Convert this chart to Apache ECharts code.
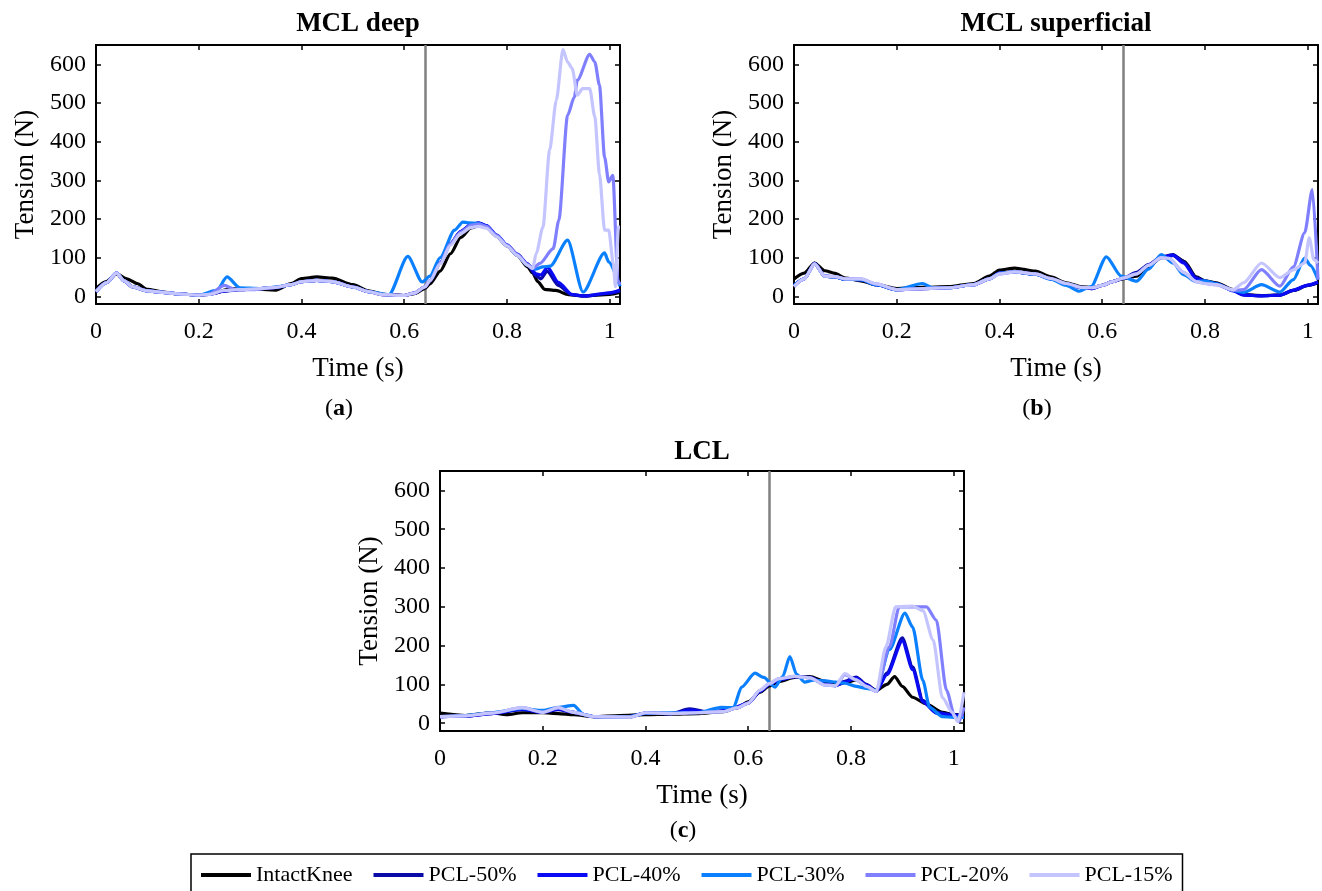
<!DOCTYPE html>
<html>
<head>
<meta charset="utf-8">
<script src="https://cdn.jsdelivr.net/npm/echarts@6/dist/echarts.min.js"></script>
<style>
html,body{margin:0;padding:0;background:#fff;}
#chart{width:1322px;height:891px;}
</style>
</head>
<body>
<div id="chart"></div>
<script>
// ---------- data ----------
const seriesNames = ['IntactKnee', 'PCL-50%', 'PCL-40%', 'PCL-30%', 'PCL-20%', 'PCL-15%'];
const seriesColors = ['#000000', '#0A0AA8', '#0A0AF5', '#0A80FF', '#8080FF', '#C4C4FF'];
const panelTitles = ['MCL deep', 'MCL superficial', 'LCL'];
const panelTags = ['a', 'b', 'c'];
const xTicks = [0, 0.2, 0.4, 0.6, 0.8, 1];
const yTicks = [0, 100, 200, 300, 400, 500, 600];
const markerTime = 0.64;

// MCL deep
const deepIntact = [[0,20],[0.02,38],[0.04,58],[0.06,45],[0.08,33],[0.1,18],[0.13,11],[0.16,6],[0.2,3],[0.23,8],[0.26,19],[0.3,19],[0.35,16],[0.38,33],[0.4,46],[0.43,50],[0.46,47],[0.5,30],[0.53,14],[0.56,5],[0.6,2],[0.62,7],[0.64,20],[0.65,32],[0.67,65],[0.69,110],[0.71,152],[0.73,177],[0.745,183],[0.76,178],[0.78,155],[0.8,130],[0.82,106],[0.84,76],[0.85,60],[0.86,38],[0.873,18],[0.895,15],[0.92,4],[0.95,1],[1.0,5],[1.02,10]];
const deepP50 = [[0,12],[0.02,35],[0.04,60],[0.055,40],[0.07,25],[0.1,14],[0.13,10],[0.16,6],[0.2,3],[0.22,5],[0.25,13],[0.28,17],[0.32,20],[0.35,22],[0.38,30],[0.4,38],[0.43,41],[0.46,38],[0.5,24],[0.53,12],[0.56,4],[0.6,2],[0.62,8],[0.64,24],[0.65,40],[0.67,86],[0.69,136],[0.71,167],[0.73,185],[0.745,189],[0.76,182],[0.78,157],[0.8,132],[0.82,108],[0.84,82],[0.857,52],[0.866,45],[0.878,65],[0.9,28],[0.925,5],[0.95,0],[1.0,8],[1.02,14]];
const deepP40 = [[0,12],[0.02,35],[0.04,60],[0.055,40],[0.07,25],[0.1,14],[0.13,10],[0.16,6],[0.2,3],[0.22,5],[0.25,14],[0.28,17],[0.32,20],[0.35,23],[0.38,30],[0.4,38],[0.43,41],[0.46,38],[0.5,24],[0.53,12],[0.56,4],[0.6,2],[0.62,8],[0.64,24],[0.65,40],[0.67,86],[0.69,136],[0.71,168],[0.73,186],[0.745,190],[0.76,183],[0.78,158],[0.8,133],[0.82,109],[0.84,84],[0.857,58],[0.866,55],[0.879,75],[0.9,36],[0.927,4],[0.95,1],[1.0,9],[1.02,16]];
const deepP30 = [[0,12],[0.02,35],[0.04,60],[0.055,40],[0.07,25],[0.1,14],[0.13,10],[0.16,6],[0.2,3],[0.235,15],[0.255,50],[0.28,22],[0.32,20],[0.35,24],[0.38,30],[0.4,38],[0.43,41],[0.46,38],[0.5,24],[0.53,12],[0.57,4],[0.607,103],[0.635,37],[0.65,52],[0.67,100],[0.698,171],[0.714,192],[0.724,190],[0.745,188],[0.76,180],[0.78,156],[0.8,131],[0.82,106],[0.84,80],[0.855,70],[0.87,76],[0.884,78],[0.918,145],[0.948,11],[0.99,112],[0.998,89],[1.02,26]];
const deepP20 = [[0,12],[0.02,35],[0.04,60],[0.055,40],[0.07,25],[0.1,14],[0.13,10],[0.16,6],[0.2,3],[0.22,5],[0.25,28],[0.27,18],[0.3,17],[0.35,23],[0.38,30],[0.4,38],[0.43,41],[0.46,38],[0.5,24],[0.53,12],[0.56,4],[0.6,2],[0.62,8],[0.64,24],[0.65,40],[0.67,86],[0.69,136],[0.71,166],[0.73,184],[0.745,187],[0.76,181],[0.78,157],[0.8,132],[0.82,108],[0.84,82],[0.85,72],[0.864,85],[0.89,123],[0.901,197],[0.918,468],[0.931,515],[0.937,559],[0.961,626],[0.971,606],[0.98,546],[0.99,360],[0.998,296],[1.006,313],[1.016,40],[1.02,30]];
const deepP15 = [[0,12],[0.02,35],[0.04,60],[0.055,40],[0.07,25],[0.1,14],[0.13,10],[0.16,6],[0.2,3],[0.22,5],[0.25,15],[0.28,17],[0.32,20],[0.35,23],[0.38,30],[0.4,38],[0.43,41],[0.46,38],[0.5,24],[0.53,12],[0.56,4],[0.6,2],[0.62,8],[0.64,24],[0.65,40],[0.67,84],[0.69,132],[0.71,162],[0.73,178],[0.745,181],[0.76,176],[0.78,154],[0.8,130],[0.82,106],[0.84,80],[0.85,72],[0.857,111],[0.87,179],[0.883,378],[0.896,507],[0.909,638],[0.918,606],[0.927,589],[0.937,520],[0.947,537],[0.961,537],[0.971,464],[0.98,317],[0.99,171],[0.998,171],[1.007,85],[1.011,25],[1.017,179],[1.02,179]];

// MCL superficial
const supIntact = [[0,45],[0.02,60],[0.04,86],[0.06,66],[0.08,59],[0.1,47],[0.13,40],[0.16,30],[0.2,20],[0.25,23],[0.3,25],[0.35,33],[0.38,52],[0.4,68],[0.43,73],[0.47,65],[0.5,50],[0.53,35],[0.56,25],[0.58,22],[0.6,28],[0.62,38],[0.64,45],[0.667,52],[0.69,77],[0.715,100],[0.738,106],[0.76,90],[0.783,50],[0.8,40],[0.822,35],[0.855,17],[0.875,4],[0.91,2],[0.946,3],[0.972,15],[1.0,28],[1.02,35]];
const supP50 = [[0,28],[0.02,45],[0.04,85],[0.06,52],[0.08,50],[0.1,44],[0.13,43],[0.16,30],[0.2,17],[0.25,20],[0.3,22],[0.35,30],[0.38,45],[0.4,60],[0.43,63],[0.47,57],[0.5,45],[0.53,32],[0.56,22],[0.58,20],[0.6,28],[0.62,38],[0.64,46],[0.667,62],[0.69,82],[0.715,102],[0.738,108],[0.758,90],[0.783,48],[0.8,39],[0.822,33],[0.855,15],[0.875,4],[0.91,1],[0.946,3],[0.972,15],[1.0,28],[1.02,36]];
const supP40 = [[0,28],[0.02,45],[0.04,85],[0.06,52],[0.08,50],[0.1,44],[0.13,43],[0.16,30],[0.2,17],[0.25,20],[0.3,22],[0.35,30],[0.38,45],[0.4,60],[0.43,63],[0.47,57],[0.5,45],[0.53,32],[0.56,22],[0.58,20],[0.6,28],[0.62,38],[0.64,46],[0.667,58],[0.69,80],[0.715,101],[0.738,106],[0.758,86],[0.783,46],[0.8,38],[0.822,32],[0.855,14],[0.875,3],[0.91,1],[0.946,3],[0.972,16],[1.0,29],[1.02,37]];
const supP30 = [[0,28],[0.02,45],[0.04,84],[0.06,52],[0.08,50],[0.1,44],[0.13,43],[0.16,30],[0.2,17],[0.25,33],[0.27,22],[0.3,22],[0.35,30],[0.38,45],[0.4,59],[0.43,63],[0.47,57],[0.5,44],[0.53,28],[0.555,13],[0.578,25],[0.608,102],[0.637,52],[0.667,39],[0.69,70],[0.715,108],[0.738,86],[0.758,56],[0.783,38],[0.8,40],[0.822,32],[0.855,15],[0.875,10],[0.91,30],[0.946,11],[0.972,43],[0.994,99],[1.005,80],[1.02,43]];
const supP20 = [[0,25],[0.02,45],[0.04,84],[0.06,52],[0.08,51],[0.1,45],[0.13,45],[0.16,32],[0.2,17],[0.25,20],[0.3,22],[0.35,30],[0.38,45],[0.4,58],[0.43,63],[0.47,58],[0.5,46],[0.53,33],[0.56,23],[0.58,22],[0.6,28],[0.62,38],[0.64,47],[0.667,58],[0.69,80],[0.715,100],[0.73,98],[0.758,62],[0.783,38],[0.8,33],[0.822,30],[0.855,15],[0.875,17],[0.91,69],[0.946,26],[0.972,76],[0.994,164],[1.009,276],[1.02,43]];
const supP15 = [[0,25],[0.02,45],[0.04,84],[0.06,52],[0.08,51],[0.1,45],[0.13,45],[0.16,32],[0.2,17],[0.25,20],[0.3,22],[0.35,30],[0.38,45],[0.4,58],[0.43,63],[0.47,58],[0.5,46],[0.53,33],[0.56,23],[0.58,22],[0.6,28],[0.62,38],[0.64,47],[0.667,58],[0.69,80],[0.715,100],[0.73,98],[0.758,62],[0.783,38],[0.8,33],[0.822,30],[0.855,17],[0.875,35],[0.91,86],[0.946,48],[0.972,68],[0.994,86],[1.003,151],[1.012,95],[1.02,86]];

// LCL
const lclIntact = [[0,26],[0.05,20],[0.1,27],[0.13,22],[0.16,27],[0.2,27],[0.23,25],[0.26,22],[0.3,17],[0.35,20],[0.4,22],[0.45,23],[0.5,25],[0.55,30],[0.58,40],[0.6,55],[0.623,80],[0.641,96],[0.66,108],[0.69,118],[0.72,120],[0.75,108],[0.77,98],[0.79,105],[0.81,112],[0.83,98],[0.85,85],[0.87,100],[0.885,120],[0.9,95],[0.92,67],[0.946,50],[0.978,28],[1.0,22],[1.02,22]];
const lclP50 = [[0,17],[0.05,18],[0.1,25],[0.16,35],[0.2,28],[0.23,35],[0.26,28],[0.3,17],[0.37,17],[0.4,26],[0.45,25],[0.486,37],[0.525,28],[0.55,32],[0.57,38],[0.6,52],[0.623,82],[0.641,100],[0.66,112],[0.69,120],[0.72,118],[0.75,100],[0.77,97],[0.788,108],[0.81,119],[0.83,100],[0.849,83],[0.87,130],[0.9,220],[0.92,145],[0.94,59],[0.966,28],[1.0,22],[1.02,20]];
const lclP40 = [[0,17],[0.05,18],[0.1,25],[0.16,36],[0.2,28],[0.23,36],[0.26,28],[0.3,17],[0.37,17],[0.4,26],[0.45,25],[0.486,33],[0.525,28],[0.55,32],[0.57,38],[0.6,52],[0.623,82],[0.641,100],[0.66,112],[0.69,120],[0.72,118],[0.75,100],[0.77,97],[0.788,106],[0.81,116],[0.83,98],[0.849,82],[0.87,125],[0.9,212],[0.92,138],[0.94,55],[0.966,26],[1.0,20],[1.02,18]];
const lclP30 = [[0,17],[0.05,20],[0.1,27],[0.16,38],[0.2,33],[0.23,41],[0.26,46],[0.28,22],[0.3,17],[0.37,17],[0.4,26],[0.5,27],[0.548,41],[0.571,40],[0.587,93],[0.613,129],[0.63,118],[0.652,93],[0.667,120],[0.681,172],[0.694,126],[0.71,106],[0.726,111],[0.751,109],[0.77,106],[0.788,103],[0.81,95],[0.83,90],[0.849,85],[0.875,190],[0.905,284],[0.92,248],[0.94,110],[0.953,41],[0.978,17],[1.0,15],[1.02,15]];
const lclP20 = [[0,17],[0.05,19],[0.1,26],[0.16,40],[0.2,28],[0.23,40],[0.26,28],[0.3,17],[0.37,16],[0.4,27],[0.45,25],[0.5,27],[0.55,30],[0.58,40],[0.6,52],[0.623,85],[0.641,102],[0.66,115],[0.69,121],[0.72,117],[0.75,98],[0.77,97],[0.788,125],[0.81,112],[0.83,95],[0.849,82],[0.875,197],[0.894,300],[0.947,300],[0.966,266],[0.986,85],[1.002,17],[1.01,4],[1.02,41]];
const lclP15 = [[0,17],[0.05,19],[0.1,26],[0.16,40],[0.2,28],[0.23,40],[0.26,28],[0.3,17],[0.37,16],[0.4,27],[0.45,25],[0.5,27],[0.55,30],[0.58,40],[0.6,52],[0.623,85],[0.641,102],[0.66,115],[0.69,121],[0.72,117],[0.75,98],[0.77,97],[0.788,128],[0.81,112],[0.83,95],[0.849,82],[0.868,197],[0.887,300],[0.92,302],[0.94,290],[0.96,214],[0.978,66],[0.997,28],[1.008,4],[1.02,80]];

const panelData = [
  [deepIntact, deepP50, deepP40, deepP30, deepP20, deepP15],
  [supIntact, supP50, supP40, supP30, supP20, supP15],
  [lclIntact, lclP50, lclP40, lclP30, lclP20, lclP15]
];

// ---------- layout ----------
const FONT = '"Liberation Serif", "DejaVu Serif", serif';
const grids = [
  {left: 96, top: 45, width: 524, height: 259},
  {left: 794, top: 45, width: 524, height: 259},
  {left: 440, top: 471, width: 524, height: 260}
];
const titlePos = [[358, 24], [1056, 24], [702, 452]];
const tagPos = [[339, 409], [1037, 409], [683, 831]];

const xAxes = [], yAxes = [], series = [], graphics = [];
grids.forEach((g, i) => {
  const lineStyle = {color: '#000', width: 2};
  const tickStyle = {show: true, inside: true, length: 5, lineStyle: {color: '#000', width: 1.5}};
  xAxes.push({
    type: 'value', gridIndex: i, position: 'bottom', min: 0, max: 1.02,
    axisLine: {show: true, onZero: false, lineStyle},
    axisTick: Object.assign({customValues: xTicks}, tickStyle),
    axisLabel: {customValues: xTicks, fontFamily: FONT, fontSize: 24, color: '#000', margin: 16,
      formatter: v => String(v)},
    splitLine: {show: false},
    name: 'Time (s)', nameLocation: 'middle', nameGap: 51,
    nameTextStyle: {fontFamily: FONT, fontSize: 27, color: '#000'}
  });
  xAxes.push({
    type: 'value', gridIndex: i, position: 'top', min: 0, max: 1.02,
    axisLine: {show: true, onZero: false, lineStyle},
    axisTick: Object.assign({customValues: xTicks}, tickStyle),
    axisLabel: {show: false}, splitLine: {show: false}
  });
  yAxes.push({
    type: 'value', gridIndex: i, position: 'left', min: -20, max: 650,
    axisLine: {show: true, onZero: false, lineStyle},
    axisTick: Object.assign({customValues: yTicks}, tickStyle),
    axisLabel: {customValues: yTicks, fontFamily: FONT, fontSize: 24, color: '#000', margin: 10},
    splitLine: {show: false},
    name: 'Tension (N)', nameLocation: 'middle', nameGap: 57, nameRotate: 90,
    nameTextStyle: {fontFamily: FONT, fontSize: 27, color: '#000'}
  });
  yAxes.push({
    type: 'value', gridIndex: i, position: 'right', min: -20, max: 650,
    axisLine: {show: true, onZero: false, lineStyle},
    axisTick: Object.assign({customValues: yTicks}, tickStyle),
    axisLabel: {show: false}, splitLine: {show: false}
  });
  panelData[i].forEach((data, k) => {
    const s = {
      name: seriesNames[k], type: 'line', xAxisIndex: 2 * i, yAxisIndex: 2 * i,
      data: data, showSymbol: false, symbol: 'none', smooth: 0.25, smoothMonotone: 'x',
      lineStyle: {color: seriesColors[k], width: 3.2}, itemStyle: {color: seriesColors[k]},
      z: 3 + k, silent: true
    };
    if (k === 0) {
      s.markLine = {silent: true, symbol: 'none', label: {show: false},
        lineStyle: {color: '#808080', width: 2.5, type: 'solid'},
        data: [{xAxis: markerTime}], z: 2};
    }
    series.push(s);
  });
  graphics.push({
    type: 'text', x: titlePos[i][0], y: titlePos[i][1],
    style: {text: panelTitles[i], font: 'bold 27px ' + FONT, fill: '#000', align: 'center', verticalAlign: 'middle'}
  });
  graphics.push({
    type: 'text', x: tagPos[i][0], y: tagPos[i][1],
    style: {text: '({b|' + panelTags[i] + '})', font: '24px ' + FONT, fill: '#000', align: 'center', verticalAlign: 'middle',
      rich: {b: {font: 'bold 24px ' + FONT, fill: '#000'}}}
  });
});

const chart = echarts.init(document.getElementById('chart'), null, {renderer: 'canvas'});
chart.setOption({
  animation: false,
  backgroundColor: '#fff',
  grid: grids.map(g => Object.assign({outerBoundsMode: 'none', containLabel: false}, g)),
  xAxis: xAxes,
  yAxis: yAxes,
  series: series,
  graphic: graphics,
  legend: {
    data: seriesNames, left: 191, top: 854, icon: 'rect', itemWidth: 50, itemHeight: 4, itemGap: 21,
    padding: [10, 10, 10, 10], borderColor: '#000', borderWidth: 1.5,
    textStyle: {fontFamily: FONT, fontSize: 22, color: '#000'}
  }
});
</script>
</body>
</html>
